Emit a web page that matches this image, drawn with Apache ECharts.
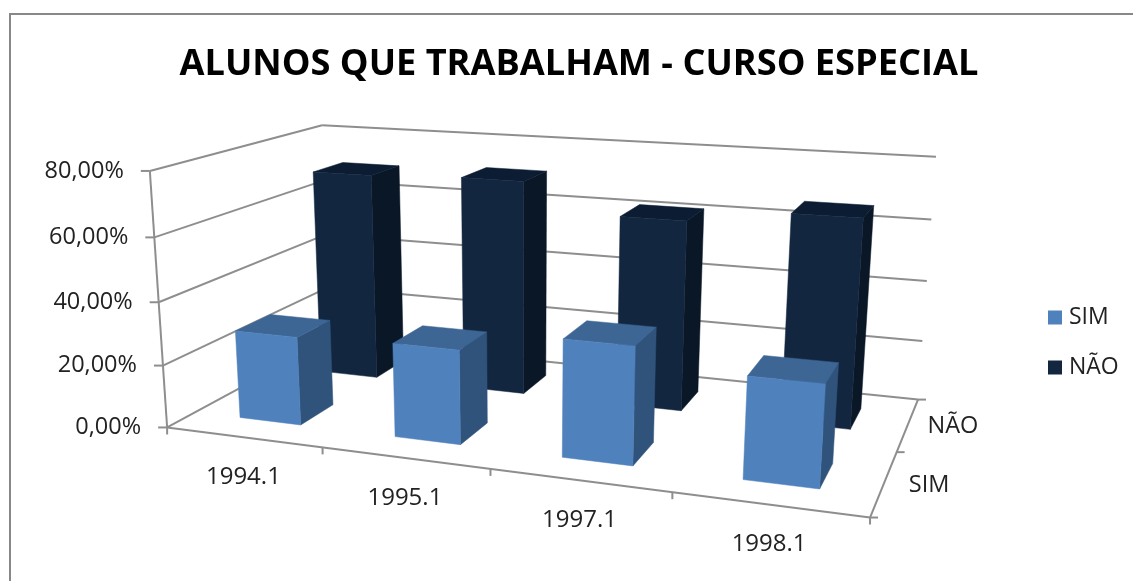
<!DOCTYPE html>
<html>
<head>
<meta charset="utf-8">
<style>html,body{margin:0;padding:0;background:#fff}#chart{width:1133px;height:581px}</style>
<script src="https://cdn.jsdelivr.net/npm/echarts@6/dist/echarts.min.js"></script>
</head>
<body>
<div id="chart"></div>
<script>
var categories = ['1994.1', '1995.1', '1997.1', '1998.1'];
var depthLabels = ['SIM', 'NÃO'];
var simValues = [28.3, 29.5, 36, 30.5];
var naoValues = [69.8, 71, 61.8, 66.3];
var valueTicks = [0, 20, 40, 60, 80];

var FONT = '"Open Sans"';
var LINE = '#8e8e8e';
var simColors = {front: '#4f81bd', top: '#3d6694', side: '#30537c'};
var naoColors = {front: '#12263f', top: '#0b1c33', side: '#0a1727'};
var barShare = 0.4;   // gapWidth 150%
var depthShare = 0.4; // gapDepth 150%

// the seen corners of the 3d box: [x, depth, height] -> screen
var viewCorners = [
    [0, 0, 0, 167, 427], [1, 0, 0, 870, 518], [1, 1, 0, 918, 399], [0, 1, 0, 330, 340],
    [0, 0, 1, 150, 171], [1, 1, 1, 936, 157], [0, 1, 1, 322, 125]
];

// least squares fit of the camera matrix from the corners
function fitCamera(pts) {
    var n = 11, A = [], i, j, k;
    for (i = 0; i < n; i++) { A.push([]); for (j = 0; j <= n; j++) A[i].push(0); }
    function addRow(row, rhs) {
        for (var a = 0; a < n; a++) {
            for (var b = 0; b < n; b++) A[a][b] += row[a] * row[b];
            A[a][n] += row[a] * rhs;
        }
    }
    pts.forEach(function (p) {
        addRow([p[0], p[1], p[2], 1, 0, 0, 0, 0, -p[3] * p[0], -p[3] * p[1], -p[3] * p[2]], p[3]);
        addRow([0, 0, 0, 0, p[0], p[1], p[2], 1, -p[4] * p[0], -p[4] * p[1], -p[4] * p[2]], p[4]);
    });
    for (i = 0; i < n; i++) {
        var best = i;
        for (k = i + 1; k < n; k++) if (Math.abs(A[k][i]) > Math.abs(A[best][i])) best = k;
        var t = A[i]; A[i] = A[best]; A[best] = t;
        for (k = 0; k < n; k++) {
            if (k === i) continue;
            var f = A[k][i] / A[i][i];
            for (j = i; j <= n; j++) A[k][j] -= f * A[i][j];
        }
    }
    var m = [];
    for (i = 0; i < n; i++) m.push(A[i][n] / A[i][i]);
    return m;
}
var cam = fitCamera(viewCorners);
function project(u, d, h) {
    var w = cam[8] * u + cam[9] * d + cam[10] * h + 1;
    return [(cam[0] * u + cam[1] * d + cam[2] * h + cam[3]) / w,
            (cam[4] * u + cam[5] * d + cam[6] * h + cam[7]) / w];
}

function line(a, b) {
    return {type: 'line', shape: {x1: a[0], y1: a[1], x2: b[0], y2: b[1]},
        style: {stroke: LINE, lineWidth: 2}};
}
function label(text, p, align, size) {
    return {type: 'text', style: {x: p[0], y: p[1], text: text, align: align, verticalAlign: 'middle',
        fontFamily: FONT, fontSize: size, fill: '#222'}};
}
function face(pts, color) {
    return {type: 'polygon', shape: {points: pts}, style: {fill: color, stroke: color, lineWidth: 0.5}};
}

// hidden grid gives the scales, its box is the unit square of the 3d floor/wall
function unit(cs, pt) {
    return [(pt[0] - cs.x) / cs.width, 1 - (pt[1] - cs.y) / cs.height];
}

function renderValueTick(params, api) {
    var v = unit(params.coordSys, api.coord([0, api.value(0)]))[1];
    var front = project(0, 0, v), back = project(0, 1, v), right = project(1, 1, v);
    var txt = api.value(0).toFixed(2).replace('.', ',') + '%';
    var kids = [
        line(front, back), line(back, right),
        line(front, [front[0] - 9, front[1]]),
        label(txt, [front[0] - 26, front[1]], 'right', 23.5)
    ];
    if (api.value(0) === 0) {
        kids.push(line(front, project(0, 0, 1))); // value axis
    }
    return {type: 'group', children: kids};
}

function renderCategoryTick(params, api) {
    var cs = params.coordSys, i = api.value(0);
    var mid = unit(cs, api.coord([i, 0]))[0];
    var step = api.size([1, 0])[0] / cs.width;
    var end = project(mid + step / 2, 0, 0);
    var c = project(mid, 0, 0);
    var kids = [line(end, [end[0], end[1] + 7]), label(categories[i], [c[0], c[1] + 40], 'center', 24)];
    if (i === 0) {
        var start = project(0, 0, 0);
        kids.push(line(start, [start[0], start[1] + 7]));
        // floor edges
        kids.push(line(start, project(1, 0, 0)), line(project(1, 0, 0), project(1, 1, 0)));
    }
    return {type: 'group', children: kids};
}

function renderDepthTick(params, api) {
    var i = api.value(0);
    var end = project(1, (i + 1) / depthLabels.length, 0);
    var c = project(1, (i + 0.5) / depthLabels.length, 0);
    var kids = [line(end, [end[0] + 8, end[1]]), label(depthLabels[i], [c[0] + 45, c[1] + 2], 'center', 23.5)];
    if (i === 0) {
        var start = project(1, 0, 0);
        kids.push(line(start, [start[0] + 8, start[1]]));
    }
    return {type: 'group', children: kids};
}

function barRenderer(depthIndex, colors) {
    return function (params, api) {
        var cs = params.coordSys;
        var top = unit(cs, api.coord([api.value(0), api.value(1)]));
        var half = api.size([1, 0])[0] / cs.width * barShare / 2;
        var slot = 1 / depthLabels.length;
        var d0 = (depthIndex + 0.5 - depthShare / 2) * slot, d1 = (depthIndex + 0.5 + depthShare / 2) * slot;
        var u0 = top[0] - half, u1 = top[0] + half, h = top[1];
        return {type: 'group', children: [
            face([project(u1, d0, 0), project(u1, d1, 0), project(u1, d1, h), project(u1, d0, h)], colors.side),
            face([project(u0, d0, h), project(u1, d0, h), project(u1, d1, h), project(u0, d1, h)], colors.top),
            face([project(u0, d0, 0), project(u1, d0, 0), project(u1, d0, h), project(u0, d0, h)], colors.front)
        ]};
    };
}

function pairs(values) {
    return values.map(function (v, i) { return [i, v]; });
}

var chart = echarts.init(document.getElementById('chart'));
chart.setOption({
    animation: false,
    backgroundColor: '#fff',
    title: {
        text: 'ALUNOS QUE TRABALHAM - CURSO ESPECIAL',
        left: 574, top: 60, textAlign: 'center', textVerticalAlign: 'middle',
        textStyle: {fontFamily: FONT, fontSize: 36.2, fontWeight: 'bold', color: '#000'}
    },
    legend: {
        data: depthLabels, orient: 'vertical', left: 1048, top: 306, padding: 0, itemWidth: 14, itemHeight: 14,
        itemGap: 27, icon: 'rect', selectedMode: false,
        textStyle: {fontFamily: FONT, fontSize: 23, color: '#222', padding: [0, 0, 0, 2]}
    },
    graphic: [{
        type: 'polyline', shape: {points: [[10, 581], [10, 14], [1133, 14]]},
        style: {fill: 'none', stroke: '#888', lineWidth: 2}
    }],
    grid: {left: 100, top: 100, width: 400, height: 400, show: false},
    xAxis: {type: 'category', data: categories, show: false},
    yAxis: {type: 'value', min: 0, max: 80, interval: 20, show: false},
    series: [
        {type: 'custom', name: 'axis-v', silent: true, z: 1, data: valueTicks.map(function (v) { return [v]; }),
            encode: {y: 0}, renderItem: renderValueTick},
        {type: 'custom', name: 'axis-x', silent: true, z: 1, data: categories.map(function (c, i) { return [i]; }),
            encode: {x: 0}, renderItem: renderCategoryTick},
        {type: 'custom', name: 'axis-d', silent: true, z: 1, data: depthLabels.map(function (c, i) { return [i]; }),
            encode: {x: 0}, renderItem: renderDepthTick},
        {type: 'custom', name: 'NÃO', silent: true, z: 2, data: pairs(naoValues), itemStyle: {color: naoColors.front},
            encode: {x: 0, y: 1}, renderItem: barRenderer(1, naoColors)},
        {type: 'custom', name: 'SIM', silent: true, z: 3, data: pairs(simValues), itemStyle: {color: simColors.front},
            encode: {x: 0, y: 1}, renderItem: barRenderer(0, simColors)}
    ]
});
</script>
</body>
</html>
